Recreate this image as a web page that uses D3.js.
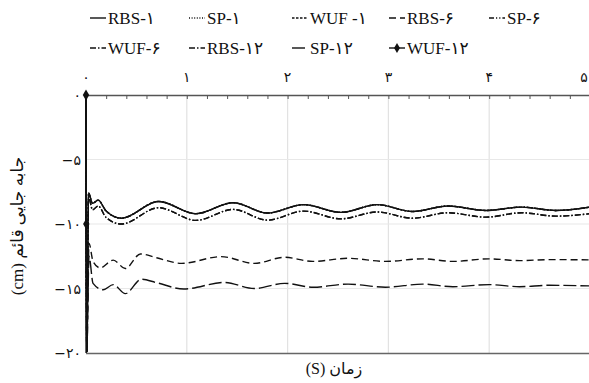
<!DOCTYPE html>
<html><head><meta charset="utf-8">
<script src="https://cdn.jsdelivr.net/npm/d3@7"></script>
<style>
html,body{margin:0;padding:0;background:#fff;}
svg{display:block;}
text{font-family:"Liberation Serif","DejaVu Sans",serif;fill:#111;}
</style></head>
<body><svg id="c" width="589" height="383"></svg>
<script>
// ---- data ----
const legendLabels = ["RBS-۱","SP-۱","WUF -۱","RBS-۶","SP-۶","WUF-۶","RBS-۱۲","SP-۱۲","WUF-۱۲"];
const xTickValues = [0,1,2,3,4,5];
const xTickLabels = ["۰","۱","۲","۳","۴","۵"];
const yTickValues = [0,-5,-10,-15,-20];
const yTickLabels = ["۰","−۵","−۱۰","−۱۵","−۲۰"];

const timeA = [0,0.008,0.025,0.065,0.12,0.2,0.35,0.72,1.09,1.46,1.8,2.16,2.53,2.89,3.24,3.59,3.97,4.32,4.66,5.0];
const valuesA = [0,-19.9,-7.6,-8.4,-8.15,-9.0,-9.55,-8.25,-9.2,-8.35,-9.15,-8.5,-9.1,-8.5,-9.03,-8.61,-8.95,-8.69,-8.95,-8.69];
const valuesB = [0,-19.9,-7.9,-8.9,-8.6,-9.5,-10.0,-8.74,-9.72,-8.87,-9.7,-9.0,-9.6,-9.07,-9.55,-9.13,-9.47,-9.13,-9.39,-9.2];
const timeC = [0,0.008,0.03,0.07,0.14,0.27,0.39,0.54,0.7,0.95,1.34,1.67,1.97,2.25,2.6,2.97,3.34,3.64,4.0,4.3,4.6,5.0];
const valuesC = [0,-19.9,-11.5,-12.9,-13.4,-12.8,-13.45,-12.32,-12.62,-13.05,-12.53,-13.05,-12.58,-12.9,-12.66,-12.9,-12.7,-12.9,-12.7,-12.84,-12.76,-12.78];
const timeD = [0,0.008,0.03,0.07,0.17,0.27,0.39,0.55,0.7,0.97,1.37,1.67,1.97,2.25,2.6,2.97,3.34,3.64,4.0,4.3,4.6,5.0];
const valuesD = [0,-19.9,-12.5,-14.6,-15.1,-14.7,-15.4,-14.28,-14.55,-15.04,-14.53,-15.0,-14.6,-14.9,-14.66,-14.9,-14.66,-14.86,-14.7,-14.86,-14.75,-14.8];
const timeWUF12 = [0,0.003];
const valuesWUF12 = [0,-10];

// series -> data (several series coincide)
const seriesTimes  = [timeA,timeA,timeA,timeC,timeA,timeA,timeA,timeD,timeWUF12];
const seriesValues = [valuesA,valuesA,valuesA,valuesC,valuesA,valuesB,valuesB,valuesD,valuesWUF12];
const seriesDash = ["", "1,1.6", "2.5,1.5", "7,4", "5,2,1.2,2,1.2,2", "6,2,1.5,2", "6,2,1.5,2", "13,4", ""];
const seriesMarker = [false,false,false,false,false,false,false,false,true];

// ---- layout ----
const svg = d3.select("#c");
const x = d3.scaleLinear().domain([0,5]).range([86,590]);
const y = d3.scaleLinear().domain([0,-20]).range([95,353]);

// grid
svg.append("g").selectAll("line").data([1,2,3,4,5]).join("line")
  .attr("x1",d=>x(d)).attr("x2",d=>x(d)).attr("y1",y(0)).attr("y2",y(-20))
  .attr("stroke","#e2e2e2").attr("stroke-width",1.2);
svg.append("g").selectAll("line").data([-5,-10,-15]).join("line")
  .attr("x1",x(0)).attr("x2",x(5)).attr("y1",d=>y(d)).attr("y2",d=>y(d))
  .attr("stroke","#e8e8e8").attr("stroke-width",1.2);

// axes
const xAxis = d3.axisTop(x).tickValues(d3.range(0,5.01,0.2)).tickSize(-4).tickFormat("");
const gx = svg.append("g").attr("transform",`translate(0,${y(0)})`).call(xAxis);
gx.select(".domain").attr("stroke","#555").attr("stroke-width",1.3);
gx.selectAll(".tick line").attr("stroke","#555");
svg.append("g").selectAll("text").data(xTickValues).join("text")
  .attr("x",d=>Math.min(x(d),584)).attr("y",82).attr("text-anchor","middle")
  .style("font-size","14px").style("font-family","DejaVu Sans")
  .text((d,i)=>xTickLabels[i]);

svg.append("line").attr("x1",x(0)).attr("x2",x(5)).attr("y1",y(-20)+0.5).attr("y2",y(-20)+0.5)
  .attr("stroke","#666").attr("stroke-width",1.3);
svg.append("line").attr("x1",x(0)).attr("x2",x(0)).attr("y1",y(0)).attr("y2",y(-20))
  .attr("stroke","#333").attr("stroke-width",1.5);
svg.append("g").selectAll("text").data(yTickValues).join("text")
  .attr("x",81).attr("y",d=>y(d)+5).attr("text-anchor","end")
  .style("font-size","14px").style("font-family","DejaVu Sans").attr("direction","ltr")
  .text((d,i)=>yTickLabels[i]);

// lines
const line = d3.line().x(d=>x(d[0])).y(d=>y(d[1])).curve(d3.curveMonotoneX);
legendLabels.forEach((name,i)=>{
  const pts = seriesTimes[i].map((t,j)=>[t,seriesValues[i][j]]);
  svg.append("path").datum(pts).attr("d",line).attr("fill","none")
    .attr("stroke","#111").attr("stroke-width",1.4)
    .attr("stroke-dasharray",seriesDash[i]||null);
  if(seriesMarker[i]){
    svg.append("g").selectAll("path").data(pts).join("path")
      .attr("d",d3.symbol(d3.symbolDiamond,36)())
      .attr("transform",d=>`translate(${x(d[0])},${y(d[1])})`).attr("fill","#111");
  }
});

// legend
const legX = [88,187,290,387,487];
const legY = [18,48];
legendLabels.forEach((name,i)=>{
  const r = Math.floor(i/5), c = i%5;
  const lx = legX[c], ly = legY[r];
  const g = svg.append("g").attr("transform",`translate(${lx},${ly})`);
  g.append("line").attr("x1",2).attr("x2",18).attr("y1",0).attr("y2",0)
    .attr("stroke","#111").attr("stroke-width",1.4)
    .attr("stroke-dasharray",seriesDash[i]||null);
  if(seriesMarker[i]) g.append("path").attr("d",d3.symbol(d3.symbolDiamond,30)()).attr("transform","translate(10,0)").attr("fill","#111");
  g.append("text").attr("x",20).attr("y",6).style("font-size","17px").text(name);
});

// titles
svg.append("text").attr("x",334).attr("y",374).attr("text-anchor","middle")
  .style("font-size","16px").attr("direction","rtl").text("زمان (S)");
svg.append("text").attr("transform","translate(23,226) rotate(-90)").attr("text-anchor","middle")
  .style("font-size","17px").attr("direction","rtl").text("جابه جایی قائم (cm)");
</script></body></html>
